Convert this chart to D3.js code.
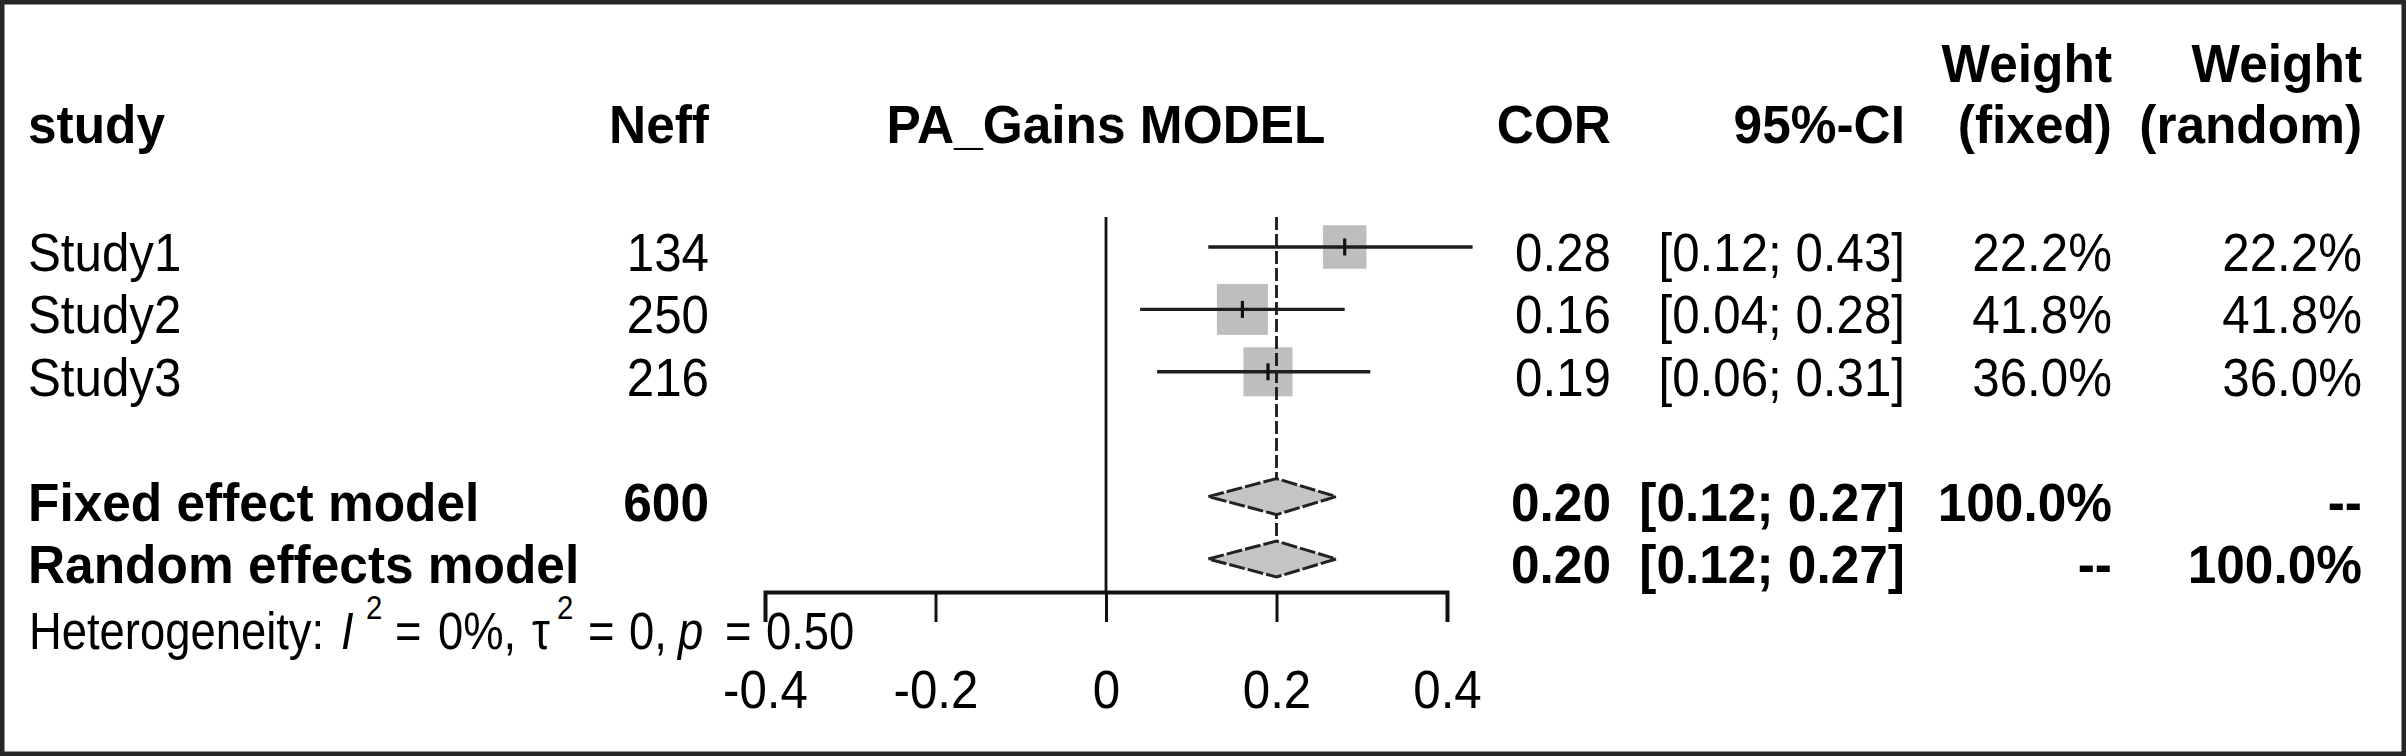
<!DOCTYPE html>
<html>
<head>
<meta charset="utf-8">
<script src="https://cdn.jsdelivr.net/npm/d3@7"></script>
<style>
  html, body { margin: 0; padding: 0; background: #fff; }
  svg { display: block; font-family: "Liberation Sans", Arial, sans-serif; }
</style>
</head>
<body>
<div id="chart"></div>
<script>
// study rows
const studies = ['Study1', 'Study2', 'Study3'];
const neff = [134, 250, 216];
const cor = [0.28, 0.16, 0.19];
const ciLower = [0.12, 0.04, 0.06];
const ciUpper = [0.43, 0.28, 0.31];
const weightFixed = [22.2, 41.8, 36.0];
const weightRandom = [22.2, 41.8, 36.0];

// pooled rows
const pooledLabels = ['Fixed effect model', 'Random effects model'];
const pooledN = ['600', ''];
const pooledEst = [0.20, 0.20];
const pooledLower = [0.12, 0.12];
const pooledUpper = [0.27, 0.27];
const pooledWeightFixed = ['100.0%', '--'];
const pooledWeightRandom = ['--', '100.0%'];

const xTicks = [-0.4, -0.2, 0, 0.2, 0.4];
const headerTop = ['', '', '', '', '', 'Weight', 'Weight'];
const headerBottom = ['study', 'Neff', 'PA_Gains MODEL', 'COR', '95%-CI', '(fixed)', '(random)'];

const width = 2406;
const height = 756;
const fontSize = 53;

const svg = d3.select('#chart').append('svg')
  .attr('width', width)
  .attr('height', height);

svg.append('rect')
  .attr('x', 2.25).attr('y', 2.25)
  .attr('width', width - 4.5).attr('height', height - 4.5)
  .attr('fill', '#fff')
  .attr('stroke', '#262626')
  .attr('stroke-width', 4.5);

const x = d3.scaleLinear().domain([-0.4, 0.4]).range([765, 1447]);
// rows 0..2 studies, 3 blank, 4..5 pooled
const y = d3.scaleLinear().domain([0, 5]).range([247, 559]);
const boxSize = d3.scalePow().exponent(0.25)
  .domain([0, d3.max(weightFixed)]).range([0, 51]);

const fmt2 = d3.format('.2f');
const ci = (lo, hi) => `[${fmt2(lo)}; ${fmt2(hi)}]`;
const pct = d3.format('.1f');

// column anchors
const cols = [
  { x: 28, anchor: 'start' },
  { x: 709, anchor: 'end' },
  { x: x(0), anchor: 'middle' },
  { x: 1611, anchor: 'end' },
  { x: 1905, anchor: 'end' },
  { x: 2112, anchor: 'end' },
  { x: 2362, anchor: 'end' },
];

const label = (px, py, str, anchor, bold) => svg.append('text')
  .attr('transform', `translate(${px},${py}) scale(${bold ? 0.97 : 0.93},1)`)
  .attr('text-anchor', anchor)
  .attr('font-size', fontSize)
  .attr('font-weight', bold ? 'bold' : 'normal')
  .attr('fill', '#000')
  .text(str);

// header
headerTop.forEach((t, i) => { if (t) label(cols[i].x, 82, t, cols[i].anchor, true); });
headerBottom.forEach((t, i) => label(cols[i].x, 143, t, cols[i].anchor, true));

const textDy = 24;

// study text columns
studies.forEach((s, i) => {
  const ty = y(i) + textDy;
  const cells = [s, neff[i], '', fmt2(cor[i]), ci(ciLower[i], ciUpper[i]),
    `${pct(weightFixed[i])}%`, `${pct(weightRandom[i])}%`];
  cells.forEach((c, j) => { if (c !== '') label(cols[j].x, ty, c, cols[j].anchor, false); });
});

// pooled text columns
pooledLabels.forEach((s, i) => {
  const ty = y(i + 4) + textDy;
  const cells = [s, pooledN[i], '', fmt2(pooledEst[i]), ci(pooledLower[i], pooledUpper[i]),
    pooledWeightFixed[i], pooledWeightRandom[i]];
  cells.forEach((c, j) => { if (c !== '') label(cols[j].x, ty, c, cols[j].anchor, true); });
});

// squares (under the reference lines)
svg.append('g')
  .selectAll('rect')
  .data(studies)
  .join('rect')
  .attr('x', (d, i) => x(cor[i]) - boxSize(weightFixed[i]) / 2)
  .attr('y', (d, i) => y(i) - boxSize(weightFixed[i]) / 2)
  .attr('width', (d, i) => boxSize(weightFixed[i]))
  .attr('height', (d, i) => boxSize(weightFixed[i]))
  .attr('fill', '#bebebe');

const plotTop = 217;
const axisY = 592;

// pooled estimate reference line
svg.append('line')
  .attr('x1', x(pooledEst[0])).attr('x2', x(pooledEst[0]))
  .attr('y1', plotTop).attr('y2', y(5) + 18)
  .attr('stroke', '#1a1a1a')
  .attr('stroke-width', 2.8)
  .attr('stroke-dasharray', '13,4');

// no-effect line
svg.append('line')
  .attr('x1', x(0)).attr('x2', x(0))
  .attr('y1', plotTop).attr('y2', axisY)
  .attr('stroke', '#111')
  .attr('stroke-width', 2.8);

// confidence intervals
svg.append('g')
  .selectAll('line')
  .data(studies)
  .join('line')
  .attr('x1', (d, i) => x(ciLower[i]))
  .attr('x2', (d, i) => x(ciUpper[i]))
  .attr('y1', (d, i) => y(i))
  .attr('y2', (d, i) => y(i))
  .attr('stroke', '#1e1e1e')
  .attr('stroke-width', 3.4);

// estimate ticks inside squares
svg.append('g')
  .selectAll('line')
  .data(studies)
  .join('line')
  .attr('x1', (d, i) => x(cor[i]))
  .attr('x2', (d, i) => x(cor[i]))
  .attr('y1', (d, i) => y(i) - 8.5)
  .attr('y2', (d, i) => y(i) + 8.5)
  .attr('stroke', '#111')
  .attr('stroke-width', 3.2);

// diamonds
svg.append('g')
  .selectAll('polygon')
  .data(pooledLabels)
  .join('polygon')
  .attr('points', (d, i) => {
    const cy = y(i + 4);
    return [
      [x(pooledLower[i]), cy],
      [x(pooledEst[i]), cy - 18],
      [x(pooledUpper[i]), cy],
      [x(pooledEst[i]), cy + 18],
    ].join(' ');
  })
  .attr('fill', '#c4c4c4')
  .attr('stroke', '#222')
  .attr('stroke-width', 3)
  .attr('stroke-dasharray', '16,3');

// x axis
const axis = svg.append('g')
  .attr('transform', `translate(0,${axisY})`)
  .call(d3.axisBottom(x)
    .tickValues(xTicks)
    .tickSize(30)
    .tickSizeOuter(30)
    .tickPadding(48)
    .tickFormat(d => (d === 0 ? '0' : d3.format('.1f')(d).replace('−', '-'))));

axis.select('.domain').attr('stroke', '#111').attr('stroke-width', 4);
axis.selectAll('.tick line').attr('stroke', '#111').attr('stroke-width', 3);
axis.selectAll('.tick text')
  .attr('font-size', fontSize)
  .attr('font-family', '"Liberation Sans", Arial, sans-serif')
  .attr('fill', '#000')
  .attr('transform', 'scale(0.93,1)');

// heterogeneity line, laid out piece by piece like R plotmath
const hetScale = 0.89;
const het = svg.append('text')
  .attr('transform', `translate(0,649) scale(${hetScale},1)`)
  .attr('font-size', 51)
  .attr('fill', '#000');
const parts = [
  { t: 'Heterogeneity:', at: 29 },
  { t: 'I', at: 341, italic: true },
  { t: '2', at: 366, sup: true },
  { t: '=', at: 395 },
  { t: '0%,', at: 438 },
  { t: 'τ', at: 532 },
  { t: '2', at: 557, sup: true },
  { t: '=', at: 588 },
  { t: '0,', at: 629 },
  { t: 'p', at: 678, italic: true },
  { t: '=', at: 725 },
  { t: '0.50', at: 766 },
];
parts.forEach(p => {
  const ts = het.append('tspan')
    .attr('x', p.at / hetScale)
    .attr('y', p.sup ? -30 : 0)
    .text(p.t);
  if (p.italic) ts.attr('font-style', 'italic');
  if (p.sup) ts.attr('font-size', 33);
});
</script>
</body>
</html>
